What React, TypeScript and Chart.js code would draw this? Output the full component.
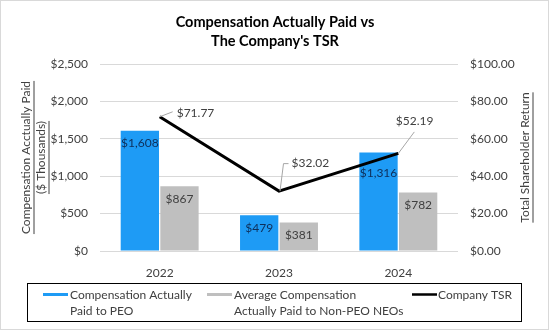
import React, { useEffect, useRef } from 'react';
import { Chart, registerables } from 'chart.js';
Chart.register(...registerables);

const categories = ['2022', '2023', '2024'];
const peoCap = [1608, 479, 1316];
const neoCap = [867, 381, 782];
const tsr = [71.77, 32.02, 52.19];
const seriesNames = [
  'Compensation Actually Paid to PEO',
  'Average Compensation Actually Paid to Non-PEO NEOs',
  'Company TSR',
];
const legendLines = [
  ['Compensation Actually', 'Paid to PEO'],
  ['Average Compensation', 'Actually Paid to Non-PEO NEOs'],
  ['Company TSR'],
];
const titleLines = ['Compensation Actually Paid vs', "The Company's TSR"];
const leftTitleLines = ['Compensation Acctually Paid', '($ Thousands)'];
const rightTitle = 'Total Shareholder Return';

const FONT = 'Lato, "Open Sans", sans-serif';
const FS = 12;
const BLUE = '#1E9BF5';
const GRAY = '#BFBFBF';
const TXT = '#404040';

// style: vertical offset of bar labels below the bar top (px)
const barLabelOffsets = [
  [12.5, 12.5, 21],
  [12.5, 12.5, 12.5],
];
// style: TSR label placement relative to the point
const tsrLabelStyle = [
  { path: [[0, 0], [13, -5]], lx: 17, ly: -3.5 },
  { path: [[1, 0], [4.5, -27.5], [9.5, -27.5]], lx: 12.5, ly: -27.5 },
  { path: [[0, 0], [16, -21.5]], lx: -2.5, ly: -32 },
];

const fmtK = (v: number) => '$' + v.toLocaleString('en-US');

const overlay = {
  id: 'overlay',
  afterDatasetsDraw(chart: any) {
    const ctx = chart.ctx;
    ctx.save();
    ctx.font = `${FS}px ${FONT}`;
    ctx.textAlign = 'center';
    ctx.textBaseline = 'middle';
    const vals = [peoCap, neoCap];
    [1, 2].forEach((di, k) => {
      const meta = chart.getDatasetMeta(di);
      meta.data.forEach((el: any, i: number) => {
        ctx.fillStyle = k === 0 ? '#0E2F5A' : TXT;
        ctx.fillText(fmtK(vals[k][i]), el.x, el.y + barLabelOffsets[k][i]);
      });
    });
    const lm = chart.getDatasetMeta(0);
    lm.data.forEach((el: any, i: number) => {
      const st = tsrLabelStyle[i];
      ctx.strokeStyle = '#A6A6A6';
      ctx.lineWidth = 1;
      ctx.beginPath();
      st.path.forEach((p, j) => {
        if (j === 0) ctx.moveTo(el.x + p[0], el.y + p[1]);
        else ctx.lineTo(el.x + p[0], el.y + p[1]);
      });
      ctx.stroke();
      ctx.fillStyle = TXT;
      ctx.textAlign = 'left';
      ctx.fillText('$' + tsr[i].toFixed(2), el.x + st.lx, el.y + st.ly);
    });
    ctx.restore();
  },
  afterDraw(chart: any) {
    const ctx = chart.ctx;
    const ca = chart.chartArea;
    ctx.save();
    ctx.strokeStyle = '#D9D9D9';
    ctx.lineWidth = 1;
    ctx.strokeRect(0.5, 0.5, 548, 329);
    ctx.fillStyle = '#000000';
    ctx.font = `bold 14.5px ${FONT}`;
    ctx.textAlign = 'center';
    ctx.textBaseline = 'middle';
    ctx.fillText(titleLines[0], 275, 22);
    ctx.fillText(titleLines[1], 275, 41);
    const midY = (ca.top + ca.bottom) / 2;
    ctx.font = `${FS}px ${FONT}`;
    ctx.fillStyle = TXT;
    const drawVert = (text: string, x: number) => {
      ctx.save();
      ctx.translate(x, midY);
      ctx.rotate(-Math.PI / 2);
      ctx.textAlign = 'center';
      ctx.textBaseline = 'middle';
      ctx.fillText(text, 0, 0);
      const w = ctx.measureText(text).width;
      ctx.strokeStyle = TXT;
      ctx.lineWidth = 1;
      ctx.beginPath();
      ctx.moveTo(-w / 2, 7.5);
      ctx.lineTo(w / 2, 7.5);
      ctx.stroke();
      ctx.restore();
    };
    drawVert(leftTitleLines[0], 26.5);
    drawVert(leftTitleLines[1], 41.5);
    drawVert(rightTitle, 525.5);
    ctx.strokeStyle = '#000000';
    ctx.lineWidth = 1;
    ctx.strokeRect(27.5, 283.5, 494, 38);
    ctx.font = `${FS}px ${FONT}`;
    ctx.textAlign = 'left';
    ctx.textBaseline = 'middle';
    const items = [
      { sx: 43, tx: 70, color: BLUE, h: 3 },
      { sx: 207, tx: 234, color: GRAY, h: 3 },
      { sx: 412, tx: 438, color: '#000000', h: 2.5 },
    ];
    items.forEach((it, i) => {
      ctx.fillStyle = it.color;
      ctx.fillRect(it.sx, 294.5 - it.h / 2, 25, it.h);
      ctx.fillStyle = TXT;
      legendLines[i].forEach((ln, j) => ctx.fillText(ln, it.tx, 295 + j * 16));
    });
    ctx.restore();
  },
};

export default function App() {
  const ref = useRef<HTMLCanvasElement>(null);
  useEffect(() => {
    if (!ref.current) return;
    const chart = new Chart(ref.current, {
      type: 'bar',
      data: {
        labels: categories,
        datasets: [
          {
            type: 'line',
            label: seriesNames[2],
            data: tsr,
            yAxisID: 'y1',
            borderColor: '#000000',
            backgroundColor: '#000000',
            borderWidth: 3,
            pointRadius: 0,
            tension: 0,
            order: -1,
          } as any,
          {
            type: 'bar',
            label: seriesNames[0],
            data: peoCap,
            yAxisID: 'y',
            backgroundColor: BLUE,
            categoryPercentage: 0.664,
            barPercentage: 0.967,
          },
          {
            type: 'bar',
            label: seriesNames[1],
            data: neoCap,
            yAxisID: 'y',
            backgroundColor: GRAY,
            categoryPercentage: 0.664,
            barPercentage: 0.967,
          },
        ],
      },
      options: {
        responsive: false,
        animation: false,
        layout: { padding: { top: 64, left: 0, right: 0, bottom: 0 } },
        plugins: { legend: { display: false }, title: { display: false }, tooltip: { enabled: false } },
        scales: {
          x: {
            grid: { display: false },
            border: { display: false },
            ticks: { color: TXT, font: { family: FONT, size: FS }, padding: 7 },
            afterFit: (s: any) => { s.height = 80; },
          },
          y: {
            position: 'left',
            min: 0,
            max: 2500,
            ticks: { stepSize: 500, color: TXT, font: { family: FONT, size: FS }, padding: 12, callback: (v: any) => fmtK(Number(v)) },
            grid: { color: '#D9D9D9', lineWidth: 1, drawTicks: false },
            border: { display: false },
            afterFit: (s: any) => { s.width = 100; },
          },
          y1: {
            position: 'right',
            min: 0,
            max: 100,
            ticks: { stepSize: 20, color: TXT, font: { family: FONT, size: FS }, padding: 12, callback: (v: any) => '$' + Number(v).toFixed(2) },
            grid: { display: false, drawTicks: false },
            border: { display: false },
            afterFit: (s: any) => { s.width = 92; },
          },
        },
      },
      plugins: [overlay],
    });
    return () => chart.destroy();
  }, []);
  return (
    <div style={{ position: 'absolute', left: 0, top: 0, width: 550, height: 331, background: '#ffffff' }}>
      <canvas ref={ref} width={550} height={331} style={{ display: 'block' }} />
    </div>
  );
}
